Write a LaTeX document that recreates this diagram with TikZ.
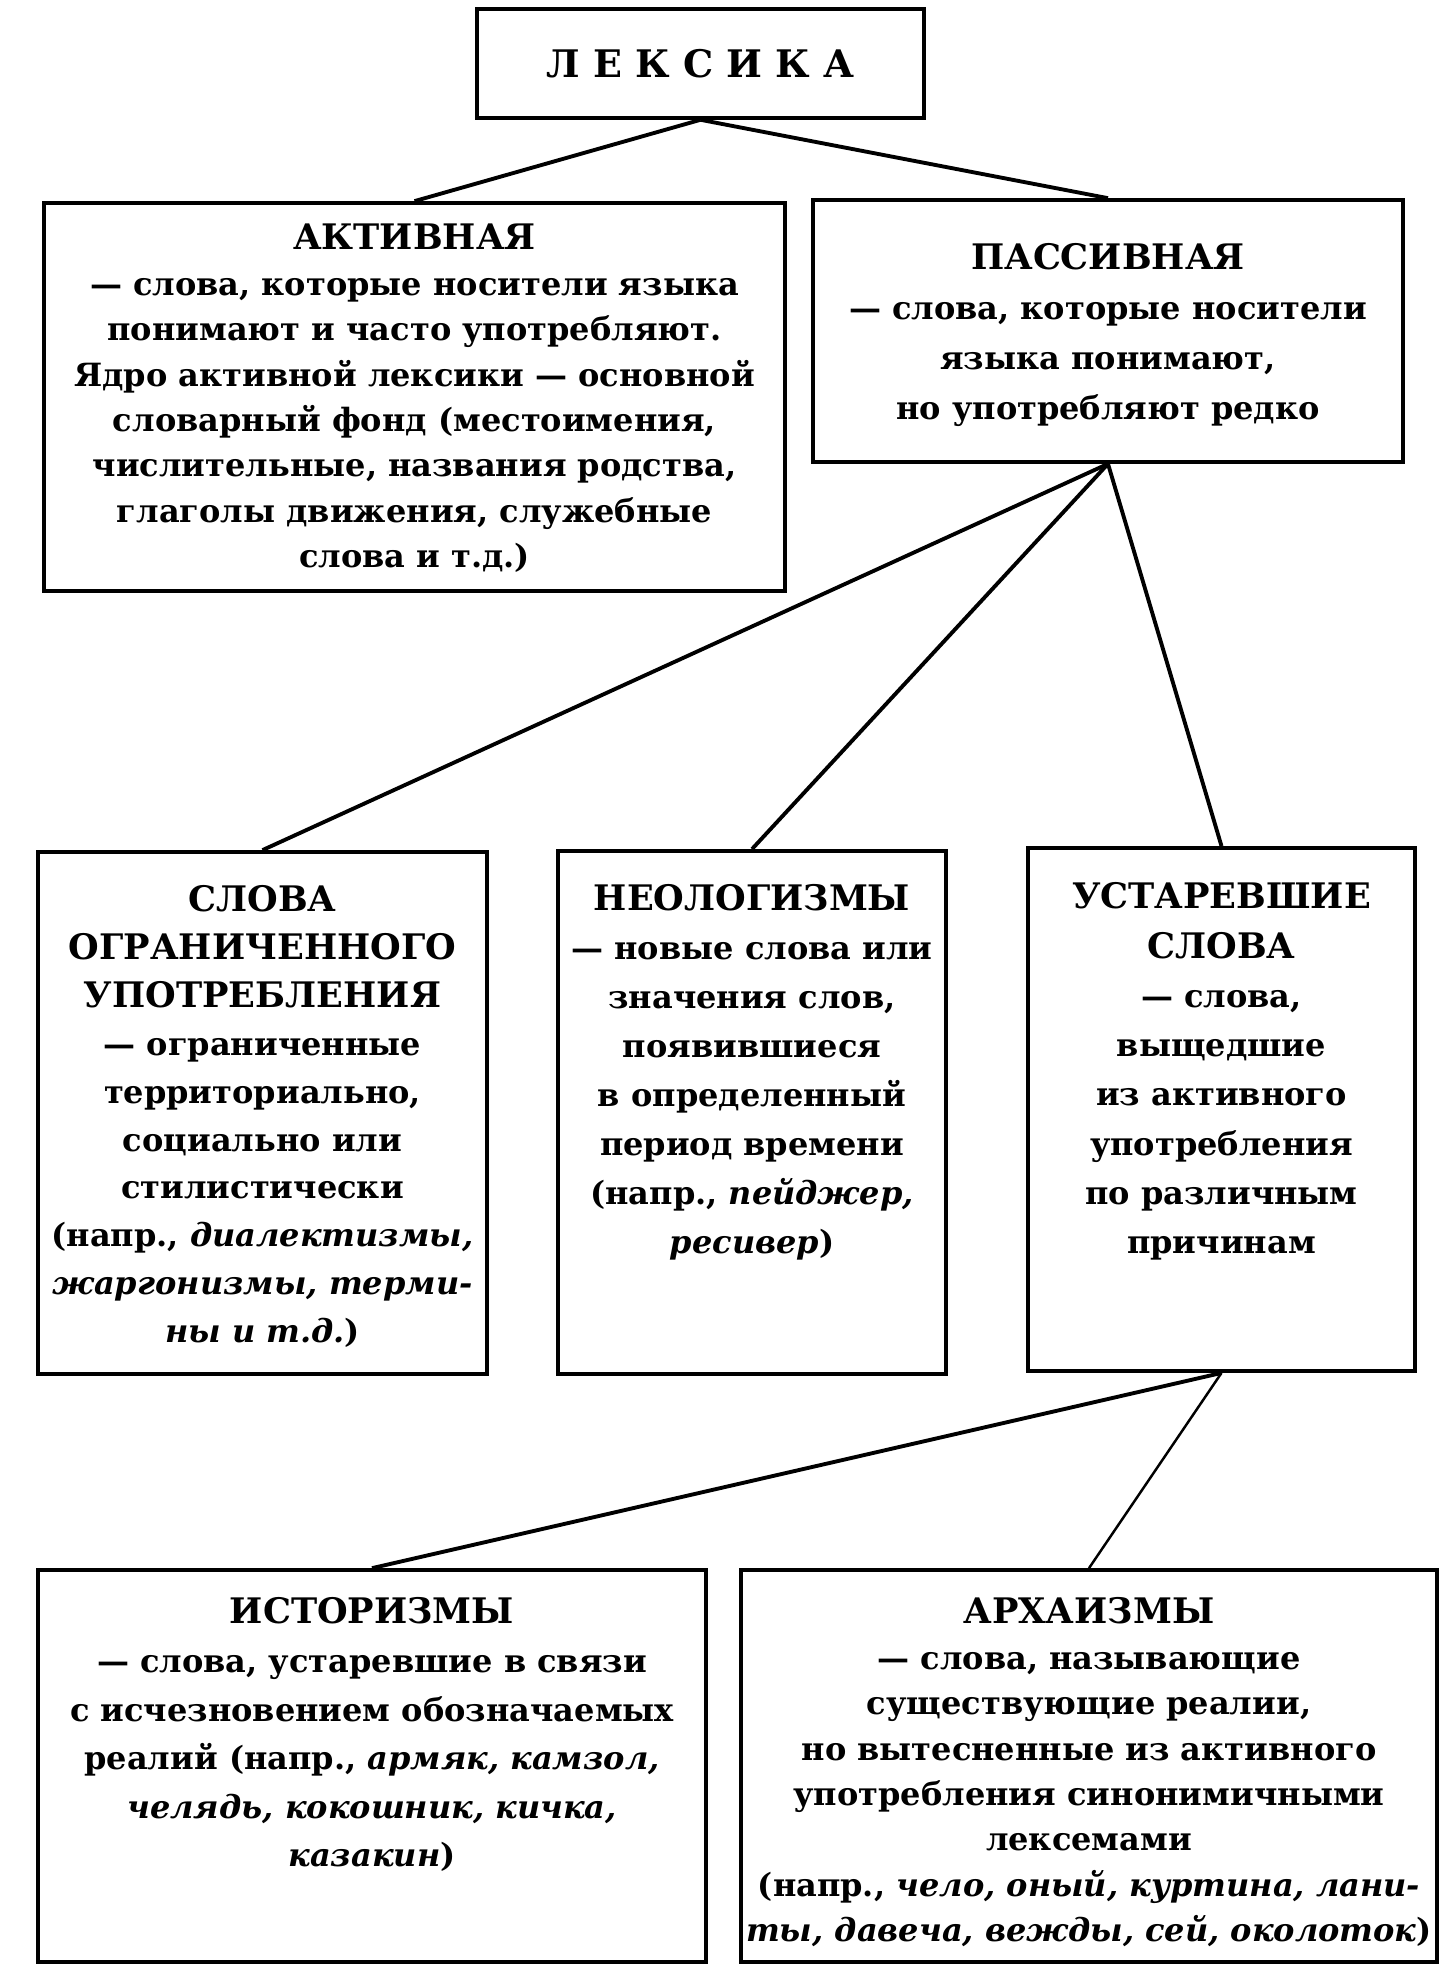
\documentclass[tikz,border=0pt]{standalone}
\usepackage{fontspec}
\setmainfont{DejaVu Serif}
\usepackage{tikz}
\tikzset{
  box/.style={draw=black, line width=1pt, inner sep=0pt, font=\bfseries},
  link/.style={draw=black, line width=1.1pt},
  thinlink/.style={draw=black, line width=0.7pt}
}
% width, height, first baseline, line skip, text
\newcommand{\cell}[5]{\parbox[c][#2][t]{#1}{\centering\fontsize{9.1}{#4}\selectfont\rule{0pt}{#3}#5}}
\newcommand{\head}[1]{{\fontsize{10}{10}\selectfont #1}}

\begin{document}
\begin{tikzpicture}[x=0.01cm, y=-0.01cm]
  \useasboundingbox (0,0) rectangle (1443,1972);
  % top level
  \node[box, minimum width=4.47cm, minimum height=1.09cm] (lex) at (700.5,63.5)
    {{\fontsize{10.8}{11}\selectfont Л Е К С И К А}};
  \node[box] (act) at (414.5,397) {\cell{7.41cm}{3.88cm}{0.47cm}{12.9pt}{\head{АКТИВНАЯ}\\
    — слова, которые носители языка\\ понимают и часто употребляют.\\
    Ядро активной лексики — основной\\ словарный фонд (местоимения,\\
    числительные, названия родства,\\ глаголы движения, служебные\\ слова и т.д.)}};
  \node[box] (pas) at (1108,331) {\cell{5.90cm}{2.62cm}{0.70cm}{14.2pt}{\head{ПАССИВНАЯ}\\
    — слова, которые носители\\ языка понимают,\\ но употребляют редко}};
  % middle level
  \node[box] (ogr) at (262.5,1113) {\cell{4.49cm}{5.22cm}{0.60cm}{13.6pt}{\head{СЛОВА}\\
    \head{ОГРАНИЧЕННОГО}\\ \head{УПОТРЕБЛЕНИЯ}\\ — ограниченные\\ территориально,\\
    социально или\\ стилистически\\ (напр., \textit{диалектизмы,}\\
    \textit{жаргонизмы, терми-}\\ \textit{ны и т.д.})}};
  \node[box] (neo) at (752,1112.5) {\cell{3.88cm}{5.23cm}{0.60cm}{13.9pt}{\head{НЕОЛОГИЗМЫ}\\
    — новые слова или\\ значения слов,\\ появившиеся\\ в определенный\\
    период времени\\ (напр., \textit{пейджер,}\\ \textit{ресивер})}};
  \node[box] (ust) at (1221.5,1109.5) {\cell{3.87cm}{5.23cm}{0.61cm}{14pt}{\head{УСТАРЕВШИЕ}\\
    \head{СЛОВА}\\ — слова,\\ выщедшие\\ из активного\\ употребления\\
    по различным\\ причинам}};
  % bottom level
  \node[box] (ist) at (372,1766) {\cell{6.68cm}{3.92cm}{0.54cm}{13.8pt}{\head{ИСТОРИЗМЫ}\\
    — слова, устаревшие в связи\\ с исчезновением обозначаемых\\
    реалий (напр., \textit{армяк, камзол,}\\ \textit{челядь, кокошник, кичка,}\\
    \textit{казакин})}};
  \node[box] (arh) at (1089,1766) {\cell{6.96cm}{3.92cm}{0.54cm}{12.9pt}{\head{АРХАИЗМЫ}\\
    — слова, называющие\\ существующие реалии,\\ но вытесненные из активного\\
    употребления синонимичными\\ лексемами\\
    (напр., \textit{чело, оный, куртина, лани-}\\ \textit{ты, давеча, вежды, сей, околоток})}};
  % links
  \draw[link] (lex.south) -- (act.north);
  \draw[link] (lex.south) -- (pas.north);
  \draw[link] (pas.south) -- (ogr.north);
  \draw[link] (pas.south) -- (neo.north);
  \draw[link] (pas.south) -- (ust.north);
  \draw[link] (ust.south) -- (ist.north);
  \draw[thinlink] (ust.south) -- (arh.north);
\end{tikzpicture}
\end{document}
